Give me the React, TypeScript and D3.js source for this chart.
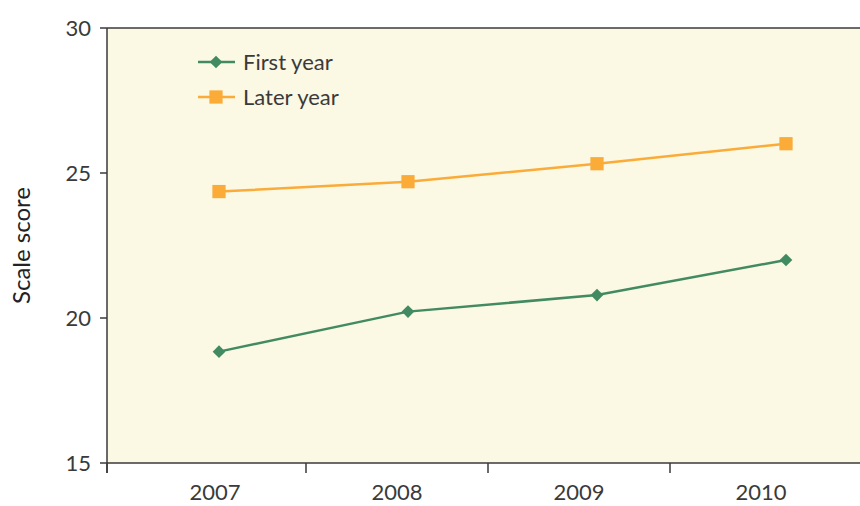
import React from "react";
import * as d3 from "d3";

// Survey years and scale scores per cohort
const years = [2007, 2008, 2009, 2010];
const firstYear = [18.84, 20.22, 20.79, 22.0];
const laterYear = [24.36, 24.7, 25.32, 26.01];
const yTicks = [15, 20, 25, 30];
const seriesNames = ["First year", "Later year"];

const W = 860;
const H = 506;
const plot = { left: 107, right: 860, top: 28, bottom: 463 };
const GREEN = "#428A61";
const ORANGE = "#FBAB38";
const INK = "#3a3a3a";
const FONT = "Lato, 'Open Sans', sans-serif";

export default function App() {
  const y = d3.scaleLinear().domain([15, 30]).range([plot.bottom, plot.top]);
  // point positions along the time axis
  const x = d3.scaleLinear().domain([2007, 2010]).range([219, 786]);
  // category labels sit on their own evenly spaced scale
  const xLabel = d3.scalePoint<number>().domain(years).range([215, 761]);
  // tick marks fall between neighbouring labels
  const boundaries = [plot.left, ...d3.pairs(years).map(([a, b]) => (xLabel(a)! + xLabel(b)!) / 2)];

  const line = d3
    .line<number>()
    .x((_, i) => x(years[i]))
    .y((d) => y(d));

  // diamond = square turned 45 degrees
  const diamond = d3.symbol(d3.symbolSquare, 80)()!;
  const square = d3.symbol(d3.symbolSquare, 175)()!;

  return (
    <svg width={W} height={H} style={{ position: "absolute", left: 0, top: 0, display: "block" }}>
      <rect x={plot.left} y={plot.top} width={plot.right - plot.left} height={plot.bottom - plot.top} fill="#FBF8E3" />
      <line x1={plot.left} x2={plot.right} y1={plot.top} y2={plot.top} stroke={INK} strokeWidth={1.5} />
      <line x1={plot.left} x2={plot.right} y1={plot.bottom} y2={plot.bottom} stroke={INK} strokeWidth={1.5} />
      <line x1={plot.left} x2={plot.left} y1={plot.top} y2={plot.bottom + 10} stroke={INK} strokeWidth={1.5} />

      {yTicks.map((t) => (
        <g key={t}>
          <line x1={plot.left - 7} x2={plot.left} y1={y(t)} y2={y(t)} stroke={INK} strokeWidth={1.5} />
          <text x={91} y={y(t)} dy="0.35em" textAnchor="end" fontFamily={FONT} fontSize={22} fill={INK}>
            {t}
          </text>
        </g>
      ))}

      {boundaries.map((bx, i) => (
        <line key={i} x1={bx} x2={bx} y1={plot.bottom} y2={plot.bottom + 10} stroke={INK} strokeWidth={1.5} />
      ))}
      {years.map((yr) => (
        <text key={yr} x={xLabel(yr)} y={500} textAnchor="middle" fontFamily={FONT} fontSize={22} fill={INK}>
          {yr}
        </text>
      ))}

      <text
        transform={`translate(30, ${(plot.top + plot.bottom) / 2}) rotate(-90)`}
        textAnchor="middle"
        fontFamily={FONT}
        fontSize={24}
        fill="#222"
      >
        Scale score
      </text>

      <path d={line(laterYear)!} fill="none" stroke={ORANGE} strokeWidth={2.5} />
      <path d={line(firstYear)!} fill="none" stroke={GREEN} strokeWidth={2.5} />
      {laterYear.map((v, i) => (
        <path key={i} d={square} transform={`translate(${x(years[i])},${y(v)})`} fill={ORANGE} />
      ))}
      {firstYear.map((v, i) => (
        <path key={i} d={diamond} transform={`translate(${x(years[i])},${y(v)}) rotate(45)`} fill={GREEN} />
      ))}

      {/* legend */}
      {seriesNames.map((name, i) => {
        const ly = 62 + i * 35;
        const color = i === 0 ? GREEN : ORANGE;
        return (
          <g key={name}>
            <line x1={198} x2={235} y1={ly} y2={ly} stroke={color} strokeWidth={2.5} />
            <path d={i === 0 ? diamond : square} transform={`translate(216,${ly})${i === 0 ? " rotate(45)" : ""}`} fill={color} />
            <text x={243} y={ly} dy="0.35em" fontFamily={FONT} fontSize={22} fill={INK}>
              {name}
            </text>
          </g>
        );
      })}
    </svg>
  );
}
